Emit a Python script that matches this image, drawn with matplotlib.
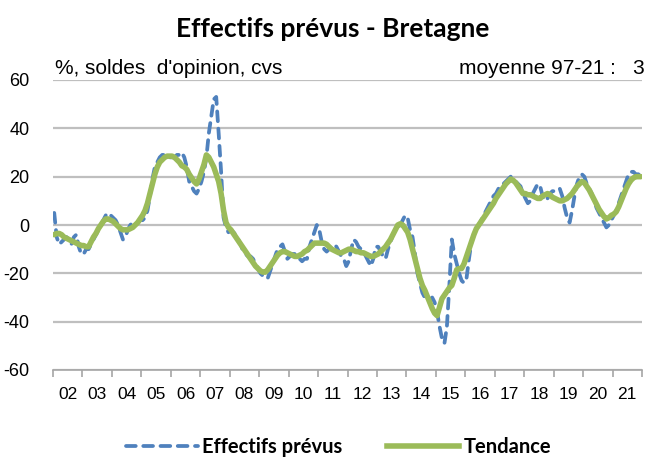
import numpy as np
import matplotlib
matplotlib.use("Agg")
import matplotlib.pyplot as plt
from matplotlib.lines import Line2D

plt.rcParams["axes.unicode_minus"] = False

# ---- data (monthly, Jan 2002 .. Dec 2021) ----
years = list(range(2002, 2022))
year_labels = [f"{y % 100:02d}" for y in years]

effectifs = [
    5, -5, -8, -7, -6, -5, -6, -8, -5, -4, -9, -12,          # 2002
    -12, -10, -10, -8, -6, -4, -2, 0, 2, 4, 3, 4,            # 2003
    3, 2, 0, -3, -6, -5, -2, 0, 1, 0, 1, 2,                  # 2004
    2, 3, 6, 12, 19, 24, 26, 28, 29, 29, 28, 28,             # 2005
    28, 28, 29, 29, 30, 28, 24, 18, 16, 14, 13, 15,          # 2006
    18, 22, 28, 38, 45, 52, 53, 38, 22, 3, -1, -3,           # 2007
    -2, -3, -4, -6, -8, -11, -12, -13, -13, -14, -16, -18,   # 2008
    -20, -21, -22, -22, -19, -16, -13, -10, -9, -8, -11, -14,  # 2009
    -13, -12, -12, -13, -14, -15, -14, -14, -9, -6, -3, 0,   # 2010
    -2, -7, -10, -11, -10, -9, -8, -9, -11, -13, -14, -17,   # 2011
    -15, -10, -6, -7, -9, -10, -11, -13, -15, -17, -14, -9,  # 2012
    -9, -11, -13, -14, -10, -7, -4, -2, -1, 0, 2, 4,         # 2013
    3, -2, -5, -12, -20, -24, -28, -30, -31, -31, -30, -32,  # 2014
    -36, -42, -47, -49, -42, -25, -6, -12, -16, -20, -23, -24,  # 2015
    -22, -14, -7, -4, -2, 0, 2, 4, 6, 8, 10, 12,             # 2016
    13, 15, 16, 17, 18, 19, 20, 19, 18, 17, 16, 13,          # 2017
    11, 9, 10, 13, 15, 17, 16, 12, 10, 11, 13, 14,           # 2018
    14, 15, 15, 12, 7, 3, 1, 6, 12, 17, 20, 21,              # 2019
    20, 17, 15, 13, 10, 7, 5, 3, 1, -1, 0, 2,                # 2020
    4, 6, 9, 12, 15, 18, 21, 22, 22, 21, 21, 20,             # 2021
]

tendance = [
    -4, -3.5, -3.5, -4, -5, -5.5, -6, -6.5, -7, -7.5, -8, -8.5,          # 2002
    -8.5, -9, -9, -7, -5, -3.5, -1.5, 0, 1.5, 2.5, 2.5, 2,               # 2003
    1.5, 0.5, -0.5, -1.5, -2, -2, -2, -1.5, -1, 0, 1, 2.5,               # 2004
    4, 6, 9, 13, 17, 21, 24, 26, 27, 28, 28.5, 28.5,                     # 2005
    28.5, 28, 27, 26, 24.5, 24, 23, 21, 19.5, 18, 17, 19,                # 2006
    22, 25, 29, 28, 26, 24, 21, 18, 13, 6, 1, -1,                        # 2007
    -2, -3.5, -5, -6.5, -8, -9.5, -11, -12.5, -14, -15.5, -17, -18,      # 2008
    -19, -19.5, -19.5, -18.5, -17, -15.5, -14, -12.5, -11.5, -11, -11, -11.5,  # 2009
    -12, -12.5, -13, -13, -12.5, -12, -11, -10.5, -9.5, -8.5, -7.5, -7.5,      # 2010
    -7.5, -7.5, -7.5, -8, -9, -10, -10.5, -11, -11.5, -11.5, -11, -10.5,       # 2011
    -10, -10, -10.5, -11, -11, -11.5, -11.5, -12, -12.5, -13, -13, -12.5,      # 2012
    -12, -11, -10, -9, -7.5, -6, -4, -2, 0, 0.5, 0, -1.5,                      # 2013
    -3, -6, -10, -14, -18, -22, -25, -27, -29.5, -32, -34.5, -36.5,            # 2014
    -37.5, -34, -30.5, -29, -27.5, -26, -25, -22, -18.5, -18, -18, -16,        # 2015
    -13, -10, -7, -4, -1.5, 0, 1.5, 3, 4.5, 6, 7.5, 9,                         # 2016
    11, 12.5, 14, 15.5, 17, 18, 19, 18.5, 17.5, 16, 14.5, 13,                  # 2017
    13, 12.5, 12.5, 12, 11.5, 11, 11, 12, 12.5, 13, 12.5, 11.5,                # 2018
    11, 10.5, 10, 10, 10.5, 11, 12, 13, 14.5, 16, 17, 18,                      # 2019
    17.5, 16, 14.5, 12.5, 10.5, 8.5, 6.5, 5, 3.5, 2.5, 3, 4,                   # 2020
    4.5, 5.5, 7.5, 10, 12.5, 15, 17, 18.5, 19.5, 20, 20, 20,                   # 2021
]

n = len(effectifs)
t = 2002 + (np.arange(n) + 0.5) / 12.0

BLUE = "#4F81BD"
GREEN = "#9BBB59"
GRID = "#BFBFBF"

fig = plt.figure(figsize=(6.51, 4.58), dpi=100)
ax = fig.add_axes([53 / 651, 1 - 370 / 458, (642 - 53) / 651, (370 - 80) / 458])

ax.plot(t, effectifs, color=BLUE, lw=2.7, linestyle=(0, (2.6, 2.0)),
        dash_capstyle="round", zorder=3)
ax.plot(t, tendance, color=GREEN, lw=4.0, solid_capstyle="round",
        solid_joinstyle="round", zorder=4)

ax.set_xlim(2002, 2022)
ax.set_ylim(-60, 60)
ax.set_yticks([-60, -40, -20, 0, 20, 40, 60])
ax.yaxis.grid(True, color=GRID, lw=1.6)
ax.set_axisbelow(True)
for s in ["left", "right", "top"]:
    ax.spines[s].set_visible(False)
ax.spines["bottom"].set_color("#A6A6A6")
ax.spines["bottom"].set_linewidth(1.2)
ax.tick_params(axis="y", length=0, pad=17, labelsize=13, labelcolor="#000000")

ax.set_xticks(list(range(2002, 2023)))
ax.set_xticklabels([])
ax.tick_params(axis="x", which="major", length=5, width=1.2, color="#A6A6A6",
               direction="out")
ax.set_xticks([y + 0.5 for y in years], minor=True)
ax.set_xticklabels(year_labels, minor=True)
ax.tick_params(axis="x", which="minor", length=0, pad=12, labelsize=12.5)

for lab in ax.get_yticklabels() + ax.get_xticklabels(minor=True):
    lab.set_fontfamily("Liberation Sans")

fig.text(333 / 651, 1 - 29 / 458, "Effectifs prévus - Bretagne", ha="center",
         va="center", fontsize=19, fontweight="bold", family="Lato")
fig.text(55 / 651, 1 - 68 / 458, "%, soldes  d'opinion, cvs", ha="left",
         va="center", fontsize=15, family="Liberation Sans")
fig.text(645 / 651, 1 - 68 / 458, "moyenne 97-21 :   3", ha="right",
         va="center", fontsize=15, family="Liberation Sans")

handles = [
    Line2D([], [], color=BLUE, lw=2.7, linestyle=(0, (2.6, 2.0)),
           dash_capstyle="round"),
    Line2D([], [], color=GREEN, lw=4.0),
]
leg = fig.legend(handles, ["Effectifs prévus", "Tendance"], loc="center",
                 bbox_to_anchor=(0.52, 1 - 447 / 458), ncol=2, frameon=False,
                 handlelength=3.6, handletextpad=0.2, columnspacing=2.2,
                 prop={"family": "Lato", "weight": "bold", "size": 14.5})

fig.savefig("out.png", dpi=100)
